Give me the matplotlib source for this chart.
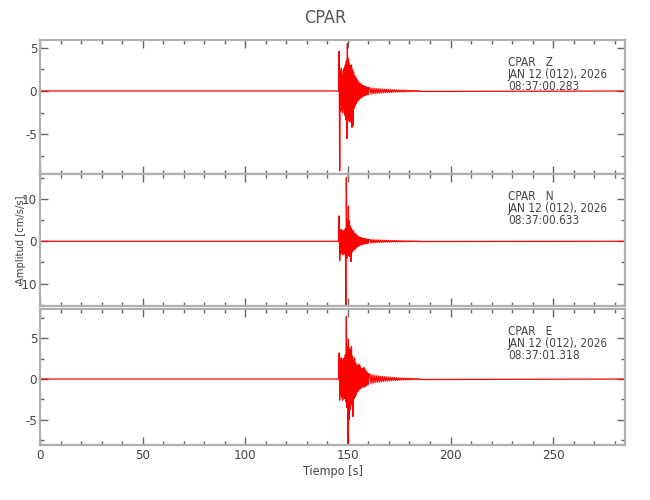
import numpy as np
import matplotlib
matplotlib.use("Agg")
import matplotlib.pyplot as plt
from matplotlib import font_manager
from matplotlib.ticker import MultipleLocator, FuncFormatter


STATION = "CPAR"
COMPONENTS = ["Z", "N", "E"]
DATE_LABEL = "JAN 12 (012), 2026"
START_TIMES = ["08:37:00.283", "08:37:00.633", "08:37:01.318"]

T_END = 285.0
T_ONSET = 145.5
DT_BURST = 0.25
DT_CODA = 0.5

Z_BURST = [
    0.0, 4.6, -9.25, 2.1, -2.3, 2.6, -2.2, 1.9, -2.5, 2.4,
    -2.0, 2.7, -2.8, 3.0, -3.3, 3.5, -5.5, 5.5, -3.0, 3.8,
    -3.4, 3.2, -3.6, 2.9, -3.1, 3.0, -4.2, 2.5, -4.0, 2.2,
    -2.0, 1.8, -1.7, 1.6, -1.5, 1.4, -1.2, 1.2, -1.1, 1.0,
    -0.95, 0.9, -0.85, 0.8, -0.75, 0.7, -0.7, 0.65, -0.6, 0.6,
    -0.55, 0.5, -0.5, 0.48, -0.45, 0.45, -0.42, 0.4, -0.4, 0.38,
]
Z_CODA = [
    0.36, -0.35, 0.33, -0.32, 0.3, -0.3, 0.28, -0.27, 0.26, -0.25,
    0.24, -0.23, 0.22, -0.22, 0.2, -0.2, 0.19, -0.18, 0.18, -0.17,
    0.16, -0.16, 0.15, -0.15, 0.14, -0.13, 0.13, -0.12, 0.12, -0.12,
    0.11, -0.11, 0.1, -0.1, 0.09, -0.09, 0.09, -0.08, 0.08, -0.08,
    0.07, -0.07, 0.07, -0.06, 0.06, -0.06, 0.06, -0.05, 0.05, -0.05,
]

N_BURST = [
    0.0, 6.0, -4.6, 2.5, -3.0, 2.8, -2.6, 2.2, -3.2, 2.6,
    -2.8, 2.4, -3.0, 3.0, -15.2, 15.1, -4.0, 5.0, -3.5, 8.3,
    -3.0, 4.8, -3.6, 3.6, -4.8, 3.0, -2.6, 2.6, -2.2, 2.4,
    -2.0, 1.9, -1.8, 1.7, -1.6, 1.5, -1.3, 1.2, -1.2, 1.1,
    -1.0, 0.95, -0.9, 0.85, -0.8, 0.8, -0.75, 0.7, -0.7, 0.65,
    -0.6, 0.6, -0.55, 0.55, -0.5, 0.5, -0.48, 0.45, -0.45, 0.42,
]
N_CODA = [
    0.42, -0.4, 0.38, -0.37, 0.35, -0.34, 0.33, -0.32, 0.31, -0.3,
    0.29, -0.28, 0.27, -0.26, 0.25, -0.24, 0.23, -0.22, 0.21, -0.2,
    0.19, -0.19, 0.18, -0.17, 0.17, -0.16, 0.16, -0.15, 0.15, -0.14,
    0.13, -0.13, 0.12, -0.12, 0.11, -0.11, 0.1, -0.1, 0.1, -0.09,
    0.09, -0.08, 0.08, -0.08, 0.07, -0.07, 0.07, -0.06, 0.06, -0.06,
]

E_BURST = [
    0.0, 3.2, -2.6, 2.4, -2.0, 2.6, -2.3, 2.2, -2.6, 2.5,
    -2.1, 2.6, -2.4, 3.0, -2.8, 7.7, -3.5, 4.0, -7.9, 4.9,
    -5.0, 3.8, -3.8, 3.6, -3.0, 4.0, -3.2, 2.8, -4.6, 2.4,
    -2.4, 2.6, -2.2, 2.0, -1.9, 1.8, -1.6, 1.6, -1.5, 1.8,
    -1.3, 1.7, -1.2, 1.4, -1.1, 1.2, -1.0, 1.3, -0.9, 1.4,
    -1.0, 1.2, -0.9, 1.0, -0.8, 0.8, -0.7, 0.7, -0.65, 0.6,
]
E_CODA = [
    0.6, -0.55, 0.52, -0.5, 0.47, -0.45, 0.43, -0.4, 0.39, -0.37,
    0.35, -0.34, 0.32, -0.3, 0.29, -0.27, 0.26, -0.25, 0.24, -0.22,
    0.21, -0.2, 0.19, -0.18, 0.18, -0.17, 0.16, -0.15, 0.15, -0.14,
    0.13, -0.13, 0.12, -0.12, 0.11, -0.11, 0.1, -0.1, 0.1, -0.09,
    0.09, -0.08, 0.08, -0.08, 0.07, -0.07, 0.07, -0.06, 0.06, -0.06,
]

BURSTS = [Z_BURST, N_BURST, E_BURST]
CODAS = [Z_CODA, N_CODA, E_CODA]
YLIMS = [(-9.6, 5.9), (-15.3, 15.9), (-8.1, 8.6)]
Y_MAJOR = [5, 10, 5]

# panel extents in pixels (top, bottom) on a 650x500 canvas
PANEL_PX = [(40, 174), (174, 306), (309, 445)]
LEFT_PX, RIGHT_PX = 40, 625
W, H = 650, 500


def pick_font():
    # the original plot uses a narrow font; take a condensed face if one is installed
    wanted = ["DejaVu Sans", "Noto Sans", "Liberation Sans Narrow", "Roboto", "Open Sans"]
    condensed = {}
    for f in font_manager.fontManager.ttflist:
        if f.stretch in ("condensed", "semi-condensed") and f.style == "normal":
            if f.weight in (400, "normal", "regular", "book"):
                condensed.setdefault(f.name, f)
    for name in wanted:
        if name in condensed:
            return name, "condensed", 1.0
    if condensed:
        name = sorted(condensed)[0]
        return name, "condensed", 1.0
    return "Liberation Sans", "normal", 0.9


def trace(burst, coda):
    t_burst = T_ONSET + DT_BURST * np.arange(len(burst))
    t_coda = t_burst[-1] + DT_CODA * (1 + np.arange(len(coda)))
    t = np.concatenate([[0.0], t_burst, t_coda, [T_END]])
    a = np.concatenate([[0.0], burst, coda, [0.0]])
    return t, a


def main():
    family, stretch, scale = pick_font()
    plt.rcParams["font.family"] = [family, "DejaVu Sans"]
    plt.rcParams["font.stretch"] = stretch

    fig = plt.figure(figsize=(6.5, 5), dpi=100)
    fmt = FuncFormatter(lambda v, p: f"{v:g}")

    axes = []
    for i, comp in enumerate(COMPONENTS):
        top, bot = PANEL_PX[i]
        ax = fig.add_axes([LEFT_PX / W, 1 - bot / H,
                           (RIGHT_PX - LEFT_PX) / W, (bot - top) / H])
        t, a = trace(BURSTS[i], CODAS[i])
        ax.plot(t, a, color="red", lw=0.9, zorder=2)
        ax.set_xlim(0, T_END)
        ax.set_ylim(*YLIMS[i])
        ax.xaxis.set_major_locator(MultipleLocator(50))
        ax.xaxis.set_minor_locator(MultipleLocator(10))
        ax.yaxis.set_major_locator(MultipleLocator(Y_MAJOR[i]))
        ax.yaxis.set_minor_locator(MultipleLocator(Y_MAJOR[i] / 2))
        ax.yaxis.set_major_formatter(fmt)
        ax.xaxis.set_major_formatter(fmt)
        ax.tick_params(which="both", direction="in", top=True, right=True,
                       colors="#666666", labelcolor="#444444",
                       labelsize=9.5 * scale)
        ax.tick_params(which="major", length=6, width=1)
        ax.tick_params(which="minor", length=3, width=1)
        ax.tick_params(axis="y", pad=2)
        ax.tick_params(axis="x", pad=3)
        if i < 2:
            ax.tick_params(axis="x", labelbottom=False)
        for sp in ax.spines.values():
            sp.set_color("#b0b0b0")
            sp.set_linewidth(1.6)

        lines = [f"{STATION}   {comp}", DATE_LABEL, START_TIMES[i]]
        for k, line in enumerate(lines):
            ax.annotate(line, xy=(228, 1), xycoords=("data", "axes fraction"),
                        xytext=(0, -26 - 12 * k), textcoords="offset pixels",
                        va="baseline", ha="left", fontsize=8.5 * scale,
                        color="#444444")
        axes.append(ax)

    fig.text(0.5, 1 - 18 / H, STATION, ha="center", va="center",
             fontsize=13 * scale, color="#555555")
    axes[2].set_xlabel("Tiempo [s]", fontsize=9 * scale, color="#444444",
                       labelpad=2)
    axes[1].set_ylabel("Amplitud [cm/s/s]", fontsize=8 * scale,
                       color="#444444")
    axes[1].yaxis.set_label_coords(-0.024, 0.5)

    fig.savefig("out.png", dpi=100)
    plt.close(fig)


if __name__ == "__main__":
    main()
